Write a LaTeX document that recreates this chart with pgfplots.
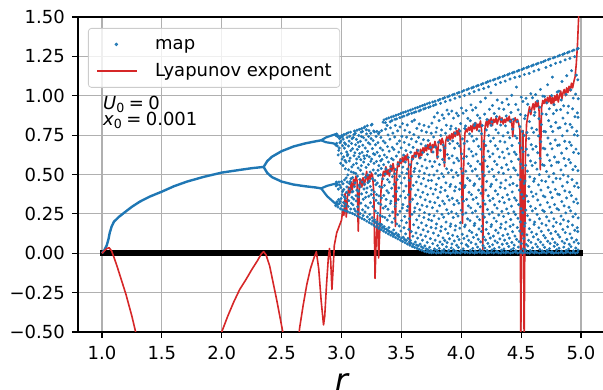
\documentclass[border=0pt]{standalone}
\usepackage{fontspec}
\setmainfont{DejaVu Sans}
\usepackage{pgfplots}
\pgfplotsset{compat=1.18}
\definecolor{mapblue}{RGB}{31,119,180}
\definecolor{lyared}{RGB}{214,39,40}
\definecolor{gridgray}{RGB}{176,176,176}
\definecolor{legendgray}{RGB}{204,204,204}
\pgfplotsset{
  maplegend/.style={legend image code/.code={\draw[mark repeat=2,mark phase=2,##1] plot coordinates {(0pt,0pt) (19pt,0pt) (38pt,0pt)};}},
  lyalegend/.style={legend image code/.code={\draw[##1, draw=lyared, line width=1.8pt] (0pt,0pt) -- (40pt,0pt);}},
}
\begin{document}
\begin{tikzpicture}
\begin{axis}[
  scale only axis, width=527pt, height=315pt,
  xmin=0.8, xmax=5.2, ymin=-0.5, ymax=1.5,
  xtick={1,1.5,2,2.5,3,3.5,4,4.5,5},
  xticklabels={1.0,1.5,2.0,2.5,3.0,3.5,4.0,4.5,5.0},
  ytick={-0.5,-0.25,0,0.25,0.5,0.75,1,1.25,1.5},
  yticklabels={−0.50,−0.25,0.00,0.25,0.50,0.75,1.00,1.25,1.50},
  tick align=outside, tick pos=left,
  major tick length=6pt,
  every tick/.style={black, line width=1.1pt},
  axis line style={black, line width=1.1pt},
  grid=major, major grid style={gridgray, line width=1.1pt},
  ticklabel style={font=\fontsize{18}{21}\selectfont, inner sep=0pt},
  xticklabel style={yshift=-8pt},
  yticklabel style={xshift=-7pt},
  xlabel={\itshape r},
  every axis x label/.style={at={(axis description cs:0.5,0)}, anchor=base, yshift=-60pt, font=\fontsize{32}{36}\selectfont, inner sep=0pt},
  legend cell align=left,
  legend style={at={(axis description cs:0,1)}, anchor=north west, xshift=10pt, yshift=-11pt,
    font=\fontsize{18}{21}\selectfont, draw=legendgray, line width=0.8pt,
    rounded corners=3pt, fill=white, fill opacity=0.8, text opacity=1, draw opacity=1,
    inner xsep=8pt, inner ysep=7pt, row sep=9pt, column sep=17pt,
    nodes={inner sep=0pt, text height=14pt, text depth=4pt}},
]
% zero line
\addplot[black, line width=5.5pt, forget plot] coordinates {(0.985,0) (5.015,0)};
% period-1 branch
\addplot[mapblue, line width=2.4pt, forget plot, line join=round] coordinates {
(1.0,0.0) (1.02,0.02) (1.04,0.05) (1.053,0.085) (1.065,0.13) (1.081,0.17) (1.1,0.2) (1.14,0.23) (1.18,0.254) (1.25,0.295) (1.317,0.328) (1.4,0.36) (1.5,0.391) (1.6,0.425) (1.71,0.455) (1.85,0.485) (2.0,0.512) (2.15,0.529) (2.25,0.54) (2.35,0.548)};
% period-2 upper
\addplot[mapblue, line width=2.4pt, forget plot] coordinates {
(2.35,0.548) (2.38,0.585) (2.42,0.613) (2.5,0.648) (2.6,0.678) (2.7,0.698) (2.78,0.71) (2.83,0.717)};
\addplot[mapblue, line width=2.2pt, forget plot] coordinates {(2.83,0.717) (2.87,0.735) (2.93,0.751) (2.96,0.758)};
\addplot[mapblue, line width=2.2pt, forget plot] coordinates {(2.83,0.717) (2.87,0.705) (2.93,0.698) (2.96,0.69)};
% period-2 lower
\addplot[mapblue, line width=2.4pt, forget plot] coordinates {
(2.35,0.548) (2.38,0.51) (2.42,0.483) (2.5,0.455) (2.6,0.436) (2.7,0.425) (2.78,0.418) (2.83,0.412)};
\addplot[mapblue, line width=2.2pt, forget plot] coordinates {(2.83,0.412) (2.88,0.428) (2.93,0.438) (2.96,0.444)};
\addplot[mapblue, line width=2.2pt, forget plot] coordinates {(2.83,0.412) (2.88,0.362) (2.93,0.328) (2.96,0.308)};
% chaotic map points
\addplot[color=mapblue, only marks, mark=*, mark size=1.3pt, mark options={draw=none, fill=mapblue}, maplegend] table {
x y
2.952 0.302
2.957 0.318
2.963 0.327
2.968 0.309
2.955 0.428
2.961 0.441
2.966 0.436
2.953 0.687
2.959 0.698
2.965 0.681
2.954 0.748
2.960 0.757
2.967 0.741
2.958 0.452
2.971 0.293
2.976 0.341
2.982 0.316
2.988 0.329
2.974 0.407
2.979 0.452
2.985 0.433
2.972 0.624
2.981 0.668
2.987 0.702
2.977 0.653
2.983 0.728
2.975 0.744
2.989 0.736
2.991 0.282
2.996 0.347
3.003 0.301
3.008 0.392
2.994 0.418
3.001 0.455
3.006 0.371
2.993 0.571
2.998 0.634
3.005 0.598
3.009 0.683
2.995 0.712
3.002 0.748
3.007 0.739
3.011 0.276
3.016 0.322
3.022 0.359
3.027 0.298
3.013 0.441
3.019 0.405
3.025 0.466
3.012 0.557
3.018 0.612
3.024 0.667
3.029 0.589
3.014 0.724
3.021 0.754
3.026 0.701
3.031 0.270
3.036 0.313
3.042 0.387
3.048 0.452
3.033 0.348
3.039 0.478
3.045 0.421
3.032 0.536
3.038 0.578
3.044 0.643
3.049 0.619
3.035 0.692
3.041 0.759
3.047 0.735
3.051 0.264
3.056 0.298
3.062 0.371
3.067 0.442
3.053 0.497
3.059 0.53
3.065 0.586
3.052 0.627
3.058 0.681
3.064 0.712
3.069 0.743
3.055 0.765
3.061 0.334
3.068 0.408
3.071 0.258
3.077 0.281
3.083 0.317
3.088 0.389
3.073 0.456
3.079 0.473
3.086 0.548
3.072 0.604
3.078 0.652
3.084 0.697
3.089 0.728
3.075 0.769
3.081 0.517
3.087 0.355
3.091 0.253
3.096 0.307
3.102 0.344
3.108 0.423
3.093 0.481
3.099 0.562
3.105 0.619
3.092 0.664
3.098 0.735
3.104 0.754
3.109 0.776
3.095 0.392
3.101 0.512
3.107 0.281
3.111 0.245
3.116 0.268
3.122 0.332
3.128 0.401
3.113 0.447
3.119 0.506
3.125 0.571
3.112 0.638
3.118 0.689
3.124 0.723
3.129 0.781
3.115 0.762
3.121 0.366
3.127 0.598
3.131 0.237
3.136 0.295
3.142 0.358
3.148 0.432
3.133 0.489
3.139 0.541
3.145 0.612
3.132 0.659
3.138 0.704
3.144 0.748
3.149 0.786
3.135 0.262
3.141 0.394
3.147 0.677
3.151 0.229
3.156 0.251
3.162 0.318
3.168 0.377
3.153 0.468
3.159 0.527
3.165 0.556
3.152 0.633
3.158 0.711
3.164 0.769
3.169 0.792
3.155 0.421
3.161 0.594
3.167 0.741
3.171 0.221
3.176 0.276
3.182 0.343
3.188 0.408
3.173 0.452
3.179 0.503
3.185 0.579
3.172 0.641
3.178 0.686
3.184 0.734
3.189 0.797
3.175 0.773
3.181 0.239
3.187 0.618
3.191 0.213
3.196 0.262
3.202 0.301
3.208 0.386
3.193 0.437
3.199 0.482
3.205 0.545
3.192 0.602
3.198 0.668
3.204 0.719
3.209 0.758
3.195 0.803
3.201 0.355
3.207 0.784
3.211 0.204
3.216 0.231
3.222 0.289
3.228 0.362
3.213 0.414
3.219 0.497
3.225 0.563
3.212 0.621
3.218 0.647
3.224 0.701
3.229 0.779
3.215 0.809
3.221 0.448
3.227 0.742
3.231 0.195
3.236 0.247
3.242 0.321
3.248 0.373
3.233 0.458
3.239 0.516
3.245 0.584
3.232 0.612
3.238 0.693
3.244 0.762
3.249 0.814
3.235 0.215
3.241 0.424
3.247 0.728
3.251 0.186
3.256 0.226
3.262 0.297
3.268 0.351
3.253 0.401
3.259 0.473
3.265 0.529
3.252 0.598
3.258 0.664
3.264 0.716
3.269 0.776
3.255 0.819
3.261 0.205
3.267 0.632
3.271 0.177
3.276 0.212
3.282 0.268
3.288 0.336
3.273 0.389
3.279 0.462
3.285 0.508
3.272 0.571
3.278 0.627
3.284 0.689
3.289 0.742
3.275 0.771
3.281 0.196
3.287 0.435
3.291 0.168
3.296 0.199
3.302 0.254
3.308 0.318
3.293 0.372
3.299 0.446
3.305 0.527
3.292 0.583
3.298 0.641
3.304 0.702
3.309 0.759
3.295 0.774
3.301 0.185
3.307 0.493
3.311 0.159
3.316 0.187
3.322 0.241
3.328 0.309
3.313 0.364
3.319 0.423
3.325 0.498
3.312 0.556
3.318 0.617
3.324 0.668
3.329 0.735
3.315 0.768
3.321 0.172
3.327 0.587
3.331 0.15
3.336 0.182
3.342 0.233
3.348 0.287
3.333 0.351
3.339 0.419
3.345 0.472
3.332 0.538
3.338 0.596
3.344 0.655
3.349 0.712
3.335 0.779
3.341 0.164
3.347 0.832
3.351 0.141
3.356 0.169
3.362 0.227
3.368 0.298
3.353 0.367
3.359 0.431
3.365 0.503
3.352 0.562
3.358 0.624
3.364 0.701
3.369 0.788
3.355 0.847
3.361 0.155
3.367 0.829
3.371 0.132
3.376 0.153
3.382 0.211
3.388 0.279
3.373 0.342
3.379 0.397
3.385 0.468
3.372 0.535
3.378 0.609
3.384 0.677
3.389 0.751
3.375 0.853
3.381 0.812
3.387 0.145
3.391 0.123
3.396 0.163
3.402 0.238
3.408 0.316
3.393 0.384
3.399 0.452
3.405 0.521
3.392 0.579
3.398 0.648
3.404 0.724
3.409 0.796
3.395 0.859
3.401 0.138
3.407 0.835
3.411 0.115
3.416 0.134
3.422 0.197
3.428 0.262
3.413 0.331
3.419 0.413
3.425 0.486
3.412 0.551
3.418 0.601
3.424 0.672
3.429 0.763
3.415 0.865
3.421 0.842
3.427 0.126
3.431 0.107
3.436 0.148
3.442 0.221
3.448 0.297
3.433 0.362
3.439 0.438
3.445 0.504
3.432 0.593
3.438 0.659
3.444 0.738
3.449 0.812
3.435 0.87
3.441 0.119
3.447 0.851
3.451 0.099
3.456 0.128
3.462 0.186
3.468 0.245
3.453 0.318
3.459 0.392
3.465 0.467
3.452 0.532
3.458 0.617
3.464 0.695
3.469 0.777
3.455 0.876
3.461 0.853
3.467 0.112
3.471 0.091
3.476 0.117
3.482 0.173
3.488 0.266
3.473 0.341
3.479 0.415
3.485 0.489
3.472 0.566
3.478 0.642
3.484 0.713
3.489 0.802
3.475 0.881
3.481 0.104
3.487 0.861
3.491 0.083
3.496 0.141
3.502 0.208
3.508 0.287
3.493 0.363
3.499 0.446
3.505 0.512
3.492 0.588
3.498 0.669
3.504 0.742
3.509 0.823
3.495 0.887
3.501 0.096
3.507 0.866
3.511 0.075
3.516 0.102
3.522 0.162
3.528 0.233
3.513 0.309
3.519 0.394
3.525 0.478
3.512 0.547
3.518 0.623
3.524 0.704
3.529 0.781
3.515 0.893
3.521 0.871
3.527 0.088
3.531 0.067
3.536 0.123
3.542 0.194
3.548 0.271
3.533 0.352
3.539 0.427
3.545 0.507
3.532 0.579
3.538 0.652
3.544 0.737
3.549 0.814
3.535 0.898
3.541 0.081
3.547 0.877
3.551 0.059
3.556 0.094
3.562 0.152
3.568 0.219
3.553 0.297
3.559 0.372
3.565 0.463
3.552 0.534
3.558 0.608
3.564 0.689
3.569 0.768
3.555 0.904
3.561 0.884
3.567 0.072
3.571 0.051
3.576 0.082
3.582 0.138
3.588 0.247
3.573 0.326
3.579 0.407
3.585 0.489
3.572 0.562
3.578 0.641
3.584 0.726
3.589 0.837
3.575 0.909
3.581 0.064
3.587 0.889
3.591 0.043
3.596 0.108
3.602 0.181
3.608 0.263
3.593 0.343
3.599 0.431
3.605 0.519
3.592 0.597
3.598 0.672
3.604 0.753
3.609 0.846
3.595 0.915
3.601 0.057
3.607 0.894
3.611 0.037
3.616 0.071
3.622 0.129
3.628 0.212
3.613 0.288
3.619 0.369
3.625 0.452
3.612 0.538
3.618 0.617
3.624 0.708
3.629 0.793
3.615 0.921
3.621 0.898
3.627 0.052
3.631 0.031
3.636 0.096
3.642 0.163
3.648 0.238
3.633 0.314
3.639 0.402
3.645 0.486
3.632 0.571
3.638 0.653
3.644 0.736
3.649 0.821
3.635 0.926
3.641 0.047
3.647 0.903
3.651 0.025
3.656 0.058
3.662 0.117
3.668 0.193
3.653 0.276
3.659 0.357
3.665 0.441
3.652 0.522
3.658 0.606
3.664 0.694
3.669 0.778
3.655 0.932
3.661 0.909
3.667 0.041
3.671 0.019
3.676 0.083
3.682 0.149
3.688 0.227
3.673 0.305
3.679 0.387
3.685 0.474
3.672 0.553
3.678 0.639
3.684 0.721
3.689 0.812
3.675 0.937
3.681 0.034
3.687 0.916
3.691 0.013
3.696 0.047
3.702 0.108
3.708 0.176
3.693 0.258
3.699 0.339
3.705 0.426
3.692 0.508
3.698 0.593
3.704 0.682
3.709 0.769
3.695 0.943
3.701 0.921
3.707 0.028
3.711 0.009
3.716 0.069
3.722 0.137
3.728 0.214
3.713 0.297
3.719 0.373
3.725 0.462
3.712 0.541
3.718 0.628
3.724 0.716
3.729 0.803
3.715 0.949
3.721 0.023
3.727 0.926
3.731 0.005
3.736 0.038
3.742 0.093
3.748 0.164
3.733 0.246
3.739 0.327
3.745 0.412
3.732 0.497
3.738 0.584
3.744 0.672
3.749 0.762
3.735 0.954
3.741 0.931
3.747 0.017
3.751 0.003
3.756 0.012
3.762 0.061
3.768 0.128
3.753 0.207
3.759 0.289
3.765 0.376
3.752 0.462
3.758 0.551
3.764 0.643
3.769 0.738
3.755 0.826
3.761 0.96
3.767 0.937
3.771 0.006
3.776 0.027
3.782 0.083
3.788 0.159
3.773 0.238
3.779 0.321
3.785 0.405
3.772 0.497
3.778 0.581
3.784 0.674
3.789 0.769
3.775 0.865
3.781 0.965
3.787 0.944
3.791 0.002
3.796 0.018
3.802 0.049
3.808 0.112
3.793 0.186
3.799 0.268
3.805 0.353
3.792 0.437
3.798 0.523
3.804 0.612
3.809 0.705
3.795 0.796
3.801 0.891
3.807 0.971
3.811 0.004
3.816 0.031
3.822 0.072
3.828 0.141
3.813 0.219
3.819 0.302
3.825 0.388
3.812 0.476
3.818 0.563
3.824 0.654
3.829 0.748
3.815 0.842
3.821 0.977
3.827 0.952
3.831 0.001
3.836 0.014
3.842 0.056
3.848 0.097
3.833 0.168
3.839 0.247
3.845 0.331
3.832 0.418
3.838 0.505
3.844 0.596
3.849 0.687
3.835 0.783
3.841 0.878
3.847 0.982
3.851 0.007
3.856 0.024
3.862 0.081
3.868 0.153
3.853 0.229
3.859 0.314
3.865 0.399
3.852 0.486
3.858 0.577
3.864 0.668
3.869 0.762
3.855 0.857
3.861 0.988
3.867 0.963
3.871 0.003
3.876 0.041
3.882 0.067
3.888 0.126
3.873 0.198
3.879 0.276
3.885 0.362
3.872 0.447
3.878 0.536
3.884 0.627
3.889 0.719
3.875 0.813
3.881 0.909
3.887 0.993
3.891 0.005
3.896 0.019
3.902 0.092
3.908 0.171
3.893 0.252
3.899 0.338
3.905 0.424
3.892 0.511
3.898 0.603
3.904 0.696
3.909 0.789
3.895 0.884
3.901 0.999
3.907 0.972
3.911 0.001
3.916 0.034
3.922 0.059
3.928 0.114
3.913 0.186
3.919 0.263
3.925 0.349
3.912 0.437
3.918 0.527
3.924 0.618
3.929 0.713
3.915 0.807
3.921 0.903
3.927 1.005
3.931 0.006
3.936 0.022
3.942 0.078
3.948 0.147
3.933 0.227
3.939 0.309
3.945 0.396
3.932 0.483
3.938 0.574
3.944 0.667
3.949 0.762
3.935 0.858
3.941 1.01
3.947 0.984
3.951 0.002
3.956 0.013
3.962 0.051
3.968 0.106
3.953 0.174
3.959 0.251
3.965 0.334
3.952 0.421
3.958 0.512
3.964 0.603
3.969 0.697
3.955 0.792
3.961 0.889
3.967 1.016
3.971 0.004
3.976 0.037
3.982 0.087
3.988 0.159
3.973 0.236
3.979 0.318
3.985 0.406
3.972 0.494
3.978 0.587
3.984 0.681
3.989 0.776
3.975 0.873
3.981 1.021
3.987 0.993
3.991 0.001
3.996 0.016
4.002 0.063
4.008 0.121
3.993 0.194
3.999 0.273
4.005 0.357
3.992 0.445
3.998 0.537
4.004 0.631
4.009 0.726
3.995 0.823
4.001 0.922
4.007 1.027
4.011 0.008
4.016 0.028
4.022 0.094
4.028 0.168
4.013 0.247
4.019 0.331
4.025 0.418
4.012 0.508
4.018 0.601
4.024 0.697
4.029 0.792
4.015 0.889
4.021 1.033
4.027 1.002
4.031 0.003
4.036 0.011
4.042 0.054
4.048 0.109
4.033 0.179
4.039 0.256
4.045 0.342
4.032 0.429
4.038 0.521
4.044 0.615
4.049 0.711
4.035 0.808
4.041 0.906
4.047 1.038
4.051 0.005
4.056 0.044
4.062 0.082
4.068 0.143
4.053 0.218
4.059 0.301
4.065 0.387
4.052 0.476
4.058 0.569
4.064 0.662
4.069 0.758
4.055 0.856
4.061 1.044
4.067 1.013
4.071 0.002
4.076 0.019
4.082 0.068
4.088 0.132
4.073 0.207
4.079 0.288
4.085 0.372
4.072 0.461
4.078 0.553
4.084 0.646
4.089 0.743
4.075 0.841
4.081 0.942
4.087 1.049
4.091 0.006
4.096 0.031
4.102 0.101
4.108 0.176
4.093 0.257
4.099 0.342
4.105 0.431
4.092 0.522
4.098 0.617
4.104 0.713
4.109 0.811
4.095 0.909
4.101 1.055
4.107 1.026
4.111 0.001
4.116 0.014
4.122 0.058
4.128 0.117
4.113 0.189
4.119 0.268
4.125 0.353
4.112 0.441
4.118 0.534
4.124 0.629
4.129 0.725
4.115 0.824
4.121 0.924
4.127 1.061
4.131 0.004
4.136 0.039
4.142 0.089
4.148 0.154
4.133 0.231
4.139 0.314
4.145 0.401
4.132 0.491
4.138 0.584
4.144 0.679
4.149 0.777
4.135 0.876
4.141 1.066
4.147 1.037
4.151 0.007
4.156 0.023
4.162 0.072
4.168 0.138
4.153 0.213
4.159 0.295
4.165 0.381
4.152 0.472
4.158 0.566
4.164 0.661
4.169 0.759
4.155 0.858
4.161 0.961
4.167 1.072
4.171 0.002
4.176 0.012
4.182 0.049
4.188 0.103
4.173 0.172
4.179 0.249
4.185 0.334
4.172 0.423
4.178 0.516
4.184 0.612
4.189 0.711
4.175 0.811
4.181 1.077
4.187 1.046
4.191 0.005
4.196 0.033
4.202 0.084
4.208 0.151
4.193 0.229
4.199 0.312
4.205 0.401
4.192 0.492
4.198 0.587
4.204 0.684
4.209 0.783
4.195 0.883
4.201 0.985
4.207 1.083
4.211 0.001
4.216 0.017
4.222 0.063
4.228 0.124
4.213 0.197
4.219 0.278
4.225 0.365
4.212 0.456
4.218 0.551
4.224 0.648
4.229 0.748
4.215 0.849
4.221 1.089
4.227 1.057
4.231 0.004
4.236 0.042
4.242 0.097
4.248 0.169
4.233 0.249
4.239 0.334
4.245 0.424
4.232 0.517
4.238 0.613
4.244 0.711
4.249 0.812
4.235 0.914
4.241 1.094
4.247 1.018
4.251 0.006
4.256 0.021
4.262 0.054
4.268 0.109
4.253 0.181
4.259 0.261
4.265 0.348
4.252 0.438
4.258 0.533
4.264 0.631
4.269 0.731
4.255 0.834
4.261 0.938
4.267 1.1
4.271 0.002
4.276 0.029
4.282 0.078
4.288 0.146
4.273 0.223
4.279 0.307
4.285 0.396
4.272 0.488
4.278 0.584
4.284 0.683
4.289 0.784
4.275 0.887
4.281 1.105
4.287 1.071
4.291 0.007
4.296 0.013
4.302 0.067
4.308 0.129
4.293 0.203
4.299 0.286
4.305 0.374
4.292 0.466
4.298 0.563
4.304 0.662
4.309 0.764
4.295 0.868
4.301 0.973
4.307 1.111
4.311 0.003
4.316 0.038
4.322 0.091
4.328 0.162
4.313 0.243
4.319 0.329
4.325 0.419
4.312 0.513
4.318 0.611
4.324 0.711
4.329 0.814
4.315 0.918
4.321 1.117
4.327 1.084
4.331 0.001
4.336 0.019
4.342 0.057
4.348 0.113
4.333 0.185
4.339 0.266
4.345 0.354
4.332 0.446
4.338 0.543
4.344 0.642
4.349 0.745
4.335 0.849
4.341 0.956
4.347 1.122
4.351 0.005
4.356 0.027
4.362 0.083
4.368 0.154
4.353 0.234
4.359 0.321
4.365 0.412
4.352 0.507
4.358 0.605
4.364 0.706
4.369 0.809
4.355 0.914
4.361 1.128
4.367 1.093
4.371 0.002
4.376 0.011
4.382 0.062
4.388 0.121
4.373 0.197
4.379 0.281
4.385 0.371
4.372 0.464
4.378 0.562
4.384 0.663
4.389 0.766
4.375 0.872
4.381 0.979
4.387 1.133
4.391 0.006
4.396 0.043
4.402 0.096
4.408 0.171
4.393 0.253
4.399 0.342
4.405 0.434
4.392 0.531
4.398 0.631
4.404 0.733
4.409 0.838
4.395 0.944
4.401 1.139
4.407 1.106
4.411 0.001
4.416 0.022
4.422 0.069
4.428 0.137
4.413 0.214
4.419 0.299
4.425 0.389
4.412 0.484
4.418 0.583
4.424 0.684
4.429 0.788
4.415 0.894
4.421 1.003
4.427 1.145
4.431 0.004
4.436 0.031
4.442 0.052
4.448 0.109
4.433 0.181
4.439 0.263
4.445 0.351
4.432 0.443
4.438 0.541
4.444 0.642
4.449 0.745
4.435 0.851
4.441 1.15
4.447 1.116
4.451 0.007
4.456 0.016
4.462 0.088
4.468 0.163
4.453 0.246
4.459 0.336
4.465 0.429
4.452 0.527
4.458 0.628
4.464 0.731
4.469 0.837
4.455 0.945
4.461 1.055
4.467 1.156
4.471 0.002
4.476 0.039
4.482 0.074
4.488 0.141
4.473 0.222
4.479 0.309
4.485 0.401
4.472 0.497
4.478 0.597
4.484 0.699
4.489 0.804
4.475 0.911
4.481 1.161
4.487 1.123
4.491 0.005
4.496 0.014
4.502 0.061
4.508 0.124
4.493 0.199
4.499 0.283
4.505 0.373
4.492 0.467
4.498 0.566
4.504 0.668
4.509 0.773
4.495 0.881
4.501 0.991
4.507 1.167
4.511 0.001
4.516 0.028
4.522 0.093
4.528 0.172
4.513 0.257
4.519 0.348
4.525 0.443
4.512 0.542
4.518 0.644
4.524 0.748
4.529 0.855
4.515 0.964
4.521 1.173
4.527 1.135
4.531 0.006
4.536 0.021
4.542 0.056
4.548 0.117
4.533 0.191
4.539 0.274
4.545 0.364
4.532 0.459
4.538 0.558
4.544 0.661
4.549 0.766
4.535 0.874
4.541 0.984
4.547 1.178
4.551 0.003
4.556 0.046
4.562 0.082
4.568 0.156
4.553 0.239
4.559 0.329
4.565 0.423
4.552 0.521
4.558 0.623
4.564 0.728
4.569 0.836
4.555 0.946
4.561 1.184
4.567 1.142
4.571 0.001
4.576 0.018
4.582 0.069
4.588 0.134
4.573 0.212
4.579 0.298
4.585 0.389
4.572 0.485
4.578 0.586
4.584 0.689
4.589 0.795
4.575 0.903
4.581 1.013
4.587 1.189
4.591 0.007
4.596 0.034
4.602 0.104
4.608 0.183
4.593 0.269
4.599 0.361
4.605 0.457
4.592 0.557
4.598 0.661
4.604 0.767
4.609 0.876
4.595 0.987
4.601 1.195
4.607 1.156
4.611 0.002
4.616 0.012
4.622 0.058
4.628 0.121
4.613 0.198
4.619 0.284
4.625 0.376
4.612 0.473
4.618 0.574
4.624 0.678
4.629 0.785
4.615 0.895
4.621 1.007
4.627 1.201
4.631 0.005
4.636 0.041
4.642 0.087
4.648 0.162
4.633 0.247
4.639 0.338
4.645 0.434
4.632 0.534
4.638 0.638
4.644 0.745
4.649 0.854
4.635 0.966
4.641 1.206
4.647 1.165
4.651 0.001
4.656 0.024
4.662 0.071
4.668 0.139
4.653 0.219
4.659 0.307
4.665 0.401
4.652 0.499
4.658 0.602
4.664 0.708
4.669 0.816
4.655 0.927
4.661 1.04
4.667 1.212
4.671 0.004
4.676 0.015
4.682 0.053
4.688 0.113
4.673 0.189
4.679 0.273
4.685 0.364
4.672 0.461
4.678 0.562
4.684 0.667
4.689 0.774
4.675 0.885
4.681 0.998
4.687 1.217
4.691 0.006
4.696 0.037
4.702 0.098
4.708 0.178
4.693 0.265
4.699 0.358
4.705 0.456
4.692 0.558
4.698 0.663
4.704 0.771
4.709 0.882
4.695 0.995
4.701 1.223
4.707 1.18
4.711 0.002
4.716 0.019
4.722 0.076
4.728 0.147
4.713 0.231
4.719 0.322
4.725 0.418
4.712 0.519
4.718 0.624
4.724 0.732
4.729 0.842
4.715 0.955
4.721 1.07
4.727 1.229
4.731 0.008
4.736 0.029
4.742 0.062
4.748 0.126
4.733 0.205
4.739 0.293
4.745 0.387
4.732 0.486
4.738 0.589
4.744 0.696
4.749 0.805
4.735 0.917
4.741 1.234
4.747 1.192
4.751 0.003
4.756 0.011
4.762 0.091
4.768 0.171
4.753 0.259
4.759 0.353
4.765 0.452
4.752 0.556
4.758 0.663
4.764 0.773
4.769 0.886
4.755 1.001
4.761 1.118
4.767 1.24
4.771 0.001
4.776 0.044
4.782 0.068
4.788 0.137
4.773 0.219
4.779 0.309
4.785 0.405
4.772 0.506
4.778 0.611
4.784 0.719
4.789 0.83
4.775 0.943
4.781 1.245
4.787 1.206
4.791 0.005
4.796 0.022
4.802 0.055
4.808 0.118
4.793 0.196
4.799 0.283
4.805 0.376
4.792 0.475
4.798 0.578
4.804 0.685
4.809 0.795
4.795 0.908
4.801 1.024
4.807 1.251
4.811 0.002
4.816 0.032
4.822 0.103
4.828 0.186
4.813 0.276
4.819 0.372
4.825 0.473
4.812 0.578
4.818 0.687
4.824 0.798
4.829 0.912
4.815 1.029
4.821 1.257
4.827 1.214
4.831 0.006
4.836 0.013
4.842 0.076
4.848 0.151
4.833 0.236
4.839 0.328
4.845 0.426
4.832 0.529
4.838 0.636
4.844 0.746
4.849 0.858
4.835 0.973
4.841 1.09
4.847 1.262
4.851 0.001
4.856 0.039
4.862 0.064
4.868 0.131
4.853 0.212
4.859 0.301
4.865 0.396
4.852 0.497
4.858 0.602
4.864 0.711
4.869 0.822
4.855 0.936
4.861 1.268
4.867 1.228
4.871 0.004
4.876 0.018
4.882 0.088
4.888 0.168
4.873 0.256
4.879 0.351
4.885 0.451
4.872 0.556
4.878 0.665
4.884 0.777
4.889 0.891
4.875 1.008
4.881 1.127
4.887 1.273
4.891 0.007
4.896 0.027
4.902 0.057
4.908 0.123
4.893 0.203
4.899 0.292
4.905 0.388
4.892 0.489
4.898 0.595
4.904 0.705
4.909 0.818
4.895 0.934
4.901 1.279
4.907 1.237
4.911 0.002
4.916 0.042
4.922 0.097
4.928 0.179
4.913 0.269
4.919 0.366
4.925 0.468
4.912 0.575
4.918 0.686
4.924 0.8
4.929 0.917
4.915 1.037
4.921 1.159
4.927 1.285
4.931 0.005
4.936 0.015
4.942 0.071
4.948 0.146
4.933 0.232
4.939 0.326
4.945 0.426
4.932 0.531
4.938 0.64
4.944 0.752
4.949 0.867
4.935 0.985
4.941 1.29
4.947 1.248
4.951 0.001
4.956 0.033
4.962 0.084
4.968 0.162
4.953 0.249
4.959 0.344
4.965 0.445
4.952 0.551
4.958 0.661
4.964 0.775
4.969 0.891
4.955 1.01
4.961 1.131
4.967 1.296
4.971 0.006
4.975 0.021
4.978 0.063
4.973 0.138
4.976 0.224
4.972 0.318
4.977 0.418
4.974 0.524
4.979 0.634
4.971 0.747
4.975 0.863
4.977 0.981
4.973 1.101
4.976 1.301
};
\addlegendentry{map}
% Lyapunov exponent
\addplot[color=lyared, line width=1.6pt, line join=round, lyalegend] table {
x y
1.0 0.0
1.02 0.015
1.04 0.03
1.06 0.035
1.08 0.015
1.1 -0.025
1.125 -0.08
1.15 -0.14
1.175 -0.2
1.2 -0.26
1.225 -0.33
1.25 -0.40
1.275 -0.48
1.3 -0.56
1.5 -1.0
1.8 -1.2
1.98 -0.56
2.0 -0.5
2.05 -0.40
2.1 -0.31
2.15 -0.23
2.2 -0.17
2.25 -0.105
2.3 -0.045
2.33 -0.005
2.35 0.01
2.37 -0.01
2.4 -0.08
2.43 -0.19
2.46 -0.30
2.49 -0.42
2.51 -0.5
2.53 -0.6
2.6 -1.0
2.64 -0.56
2.65 -0.476
2.68 -0.33
2.71 -0.2
2.74 -0.1
2.77 -0.03
2.79 0.01
2.81 -0.1
2.83 -0.3
2.85 -0.455
2.86 -0.4
2.875 -0.2
2.89 -0.03
2.90 0.03
2.91 -0.05
2.92 -0.23
2.93 -0.1
2.94 0.05
2.96 0.13
2.98 0.17
3.00 0.21
3.01 0.27
3.02 0.24
3.03 0.38
3.04 0.23
3.05 0.36
3.06 0.42
3.07 0.38
3.08 0.45
3.09 0.40
3.10 0.47
3.11 0.43
3.12 0.49
3.13 0.46
3.14 0.14
3.15 0.44
3.16 0.47
3.17 0.42
3.18 0.48
3.19 0.43
3.20 0.47
3.21 0.52
3.22 0.45
3.23 0.50
3.24 0.47
3.25 0.51
3.26 0.49
3.27 0.38
3.28 -0.16
3.29 0.10
3.30 0.24
3.31 -0.03
3.32 0.15
3.33 0.40
3.34 0.47
3.35 0.52
3.36 0.49
3.37 0.55
3.38 0.50
3.39 0.53
3.40 0.49
3.41 0.56
3.42 0.52
3.43 0.57
3.44 0.53
3.45 0.17
3.46 0.50
3.47 0.58
3.48 0.55
3.49 0.60
3.50 0.57
3.51 0.61
3.52 0.58
3.53 0.62
3.54 0.59
3.55 0.63
3.56 0.58
3.57 0.05
3.58 0.55
3.59 0.62
3.60 0.60
3.61 0.64
3.62 0.61
3.63 0.66
3.64 0.63
3.65 0.60
3.66 0.66
3.67 0.62
3.68 0.67
3.69 0.64
3.70 0.68
3.71 0.65
3.72 0.69
3.73 0.66
3.74 0.70
3.75 0.64
3.76 0.69
3.77 0.67
3.78 0.71
3.79 0.68
3.80 0.60
3.81 0.70
3.82 0.72
3.83 0.69
3.84 0.73
3.85 0.70
3.86 0.55
3.87 0.71
3.88 0.74
3.89 0.71
3.90 0.75
3.91 0.72
3.92 0.76
3.93 0.73
3.94 0.77
3.95 0.74
3.96 0.78
3.97 0.75
3.98 0.79
3.99 0.74
4.00 0.60
4.01 0.19
4.02 0.55
4.03 0.76
4.04 0.79
4.05 0.77
4.06 0.80
4.07 0.78
4.08 0.81
4.09 0.77
4.10 0.82
4.11 0.79
4.12 0.83
4.13 0.78
4.14 0.82
4.15 0.80
4.16 0.84
4.17 0.78
4.18 0.02
4.19 0.70
4.20 0.81
4.21 0.84
4.22 0.80
4.23 0.85
4.24 0.82
4.25 0.86
4.26 0.81
4.27 0.85
4.28 0.83
4.29 0.86
4.30 0.82
4.31 0.85
4.32 0.87
4.33 0.83
4.34 0.86
4.35 0.82
4.36 0.85
4.37 0.83
4.38 0.86
4.39 0.84
4.40 0.87
4.41 0.83
4.42 0.85
4.43 0.74
4.44 0.84
4.45 0.86
4.46 0.83
4.47 0.85
4.48 0.82
4.49 0.78
4.497 -0.6
4.505 0.45
4.515 0.78
4.525 -0.6
4.535 0.60
4.545 0.82
4.56 0.89
4.57 0.93
4.58 0.88
4.59 0.92
4.60 0.95
4.61 0.91
4.62 0.96
4.63 0.93
4.64 0.97
4.65 0.90
4.66 0.53
4.67 0.92
4.68 0.97
4.69 0.95
4.70 0.98
4.71 0.95
4.72 0.99
4.73 0.96
4.74 1.00
4.75 0.95
4.76 0.99
4.77 0.94
4.78 1.00
4.79 0.97
4.80 1.01
4.81 0.96
4.82 1.00
4.83 1.03
4.84 0.98
4.85 1.02
4.86 1.04
4.87 1.00
4.88 1.05
4.89 1.02
4.90 1.06
4.91 1.03
4.92 1.08
4.93 1.05
4.94 1.09
4.95 1.12
4.96 1.20
4.97 1.32
4.98 1.50
4.99 1.70
};
\addlegendentry{Lyapunov exponent}
\node[anchor=base west, inner sep=0pt, font=\fontsize{18}{21}\selectfont] at (axis cs:1.008,0.91)
  {{\itshape U}\raisebox{-3pt}{\fontsize{12.6}{14}\selectfont 0}\hspace{0.25em}=\hspace{0.25em}0};
\node[anchor=base west, inner sep=0pt, font=\fontsize{18}{21}\selectfont] at (axis cs:1.008,0.808)
  {{\itshape x}\raisebox{-3pt}{\fontsize{12.6}{14}\selectfont 0}\hspace{0.25em}=\hspace{0.25em}0.001};
\end{axis}
\pgfresetboundingbox
\useasboundingbox (-78pt,-58pt) rectangle (525pt,332pt);
\end{tikzpicture}
\end{document}
